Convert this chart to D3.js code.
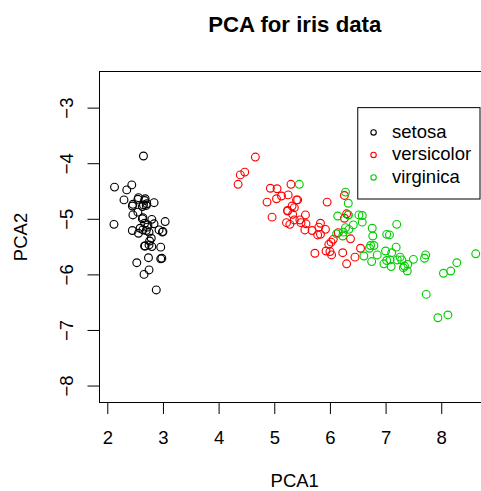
<!DOCTYPE html>
<html><head><meta charset="utf-8">
<script src="https://cdn.jsdelivr.net/npm/d3@7"></script>
<style>
  body { margin: 0; background: #fff; }
  svg text { font-family: "Liberation Sans", Arial, Helvetica, sans-serif; }
</style>
</head><body>
<svg id="chart" width="481" height="491"></svg>
<script>
// Principal component scores of the iris measurements, one pair of arrays per species
const species = ["setosa", "versicolor", "virginica"];
const speciesColors = ["#000000", "#FF0000", "#00CD00"];

const setosaPC1 = [2.64,2.67,2.45,2.55,2.56,2.98,2.46,2.67,2.44,2.65,2.80,2.63,2.56,2.13,2.75,2.88,2.74,2.70,2.96,2.67,3.00,2.76,2.12,3.04,2.80,
  2.84,2.84,2.75,2.72,2.63,2.71,2.99,2.53,2.66,2.70,2.55,2.79,2.45,2.35,2.73,2.59,2.65,2.30,2.93,2.96,2.68,2.68,2.46,2.75,2.64];
const setosaPC2 = [-5.20,-4.67,-4.77,-4.65,-5.26,-5.71,-4.93,-5.08,-4.39,-4.75,-5.50,-5.00,-4.62,-4.43,-5.92,-6.28,-5.70,-5.21,-5.72,-5.49,-5.23,-5.40,-5.10,-5.05,-5.01,
  -4.71,-5.09,-5.24,-5.15,-4.78,-4.73,-5.24,-5.79,-6.00,-4.76,-4.88,-5.35,-5.21,-4.48,-5.11,-5.17,-3.87,-4.66,-5.20,-5.51,-4.64,-5.49,-4.74,-5.47,-4.98];

const versicolorPC1 = [6.30,5.93,6.45,5.30,6.15,5.56,6.03,4.39,6.06,5.04,4.66,5.55,5.42,5.92,4.96,6.00,5.57,5.24,6.26,5.13,6.02,5.48,6.30,5.83,5.78,
  5.98,6.37,6.55,5.80,4.87,5.05,4.93,5.24,6.26,5.46,5.73,6.23,5.95,5.22,5.25,5.40,5.83,5.32,4.47,5.36,5.28,5.36,5.68,4.35,5.33];
const versicolorPC2 = [-5.81,-5.58,-5.69,-4.38,-5.25,-4.93,-5.65,-4.21,-5.37,-4.64,-3.89,-5.20,-4.66,-5.19,-4.97,-5.59,-5.09,-4.85,-4.58,-4.59,-5.42,-5.07,-4.91,-5.08,-5.29,
  -5.46,-5.36,-5.53,-5.15,-4.70,-4.46,-4.45,-4.86,-4.99,-5.02,-5.62,-5.61,-4.70,-5.07,-4.57,-4.66,-5.28,-4.77,-4.16,-4.80,-5.10,-5.02,-5.21,-4.38,-4.92];

const virginicaPC1 = [7.29,6.33,7.50,6.77,7.19,8.17,5.45,7.70,7.20,7.73,6.61,6.76,7.11,6.33,6.58,6.85,6.79,8.12,8.62,6.28,7.34,6.14,8.28,6.42,7.10,
  7.39,6.28,6.23,7.02,7.21,7.72,7.94,7.07,6.34,6.52,8.04,6.97,6.71,6.12,7.08,7.26,7.02,6.33,7.40,7.32,7.00,6.58,6.73,6.75,6.24];
const virginicaPC2 = [-5.74,-4.93,-5.73,-5.31,-5.51,-5.94,-4.38,-5.71,-5.10,-6.36,-5.67,-5.17,-5.61,-4.72,-5.06,-5.65,-5.48,-6.73,-5.63,-4.52,-5.85,-4.95,-5.79,-5.11,-5.86,
  -5.94,-5.16,-5.31,-5.28,-5.74,-5.65,-6.78,-5.29,-5.19,-4.93,-5.98,-5.81,-5.53,-5.27,-5.74,-5.69,-5.75,-4.93,-5.82,-5.88,-5.58,-4.94,-5.48,-5.77,-5.24];

const xTicks = [2, 3, 4, 5, 6, 7, 8];
const yTicks = [-3, -4, -5, -6, -7, -8];

const titleText = "PCA for iris data";
const xLabel = "PCA1";
const yLabel = "PCA2";

// legend anchored at a data position (top-left corner)
const legendAt = [6.5, -3];

// ---- layout ----
const plot = { left: 99.5, right: 490, top: 71.5, bottom: 402.5 };
const fontSize = 18.5;

const x = d3.scaleLinear().domain([1.86, 8.876]).range([plot.left, plot.right]);
const y = d3.scaleLinear().domain([-2.35, -8.305]).range([plot.top, plot.bottom]);

const svg = d3.select("#chart");

const groups = [
  { name: species[0], color: speciesColors[0], pc1: setosaPC1, pc2: setosaPC2 },
  { name: species[1], color: speciesColors[1], pc1: versicolorPC1, pc2: versicolorPC2 },
  { name: species[2], color: speciesColors[2], pc1: virginicaPC1, pc2: virginicaPC2 }
];

// points (open circles), drawn species by species
groups.forEach(g => {
  svg.append("g")
    .selectAll("circle")
    .data(d3.zip(g.pc1, g.pc2))
    .join("circle")
      .attr("cx", d => x(d[0]))
      .attr("cy", d => y(d[1]))
      .attr("r", 3.9)
      .attr("fill", "none")
      .attr("stroke", g.color)
      .attr("stroke-width", 1.15);
});

// plot frame
svg.append("rect")
  .attr("x", plot.left).attr("y", plot.top)
  .attr("width", plot.right - plot.left).attr("height", plot.bottom - plot.top)
  .attr("fill", "none").attr("stroke", "#000").attr("stroke-width", 1);

// x axis
const xAxis = svg.append("g")
  .attr("transform", `translate(0,${plot.bottom})`)
  .call(d3.axisBottom(x).tickValues(xTicks).tickSize(11.5).tickSizeOuter(0).tickFormat(d3.format("d")));
xAxis.select(".domain").remove();
xAxis.append("line")
  .attr("x1", x(xTicks[0])).attr("x2", x(xTicks[xTicks.length - 1]))
  .attr("stroke", "#000");
xAxis.selectAll(".tick line").attr("stroke", "#000");
xAxis.selectAll(".tick text")
  .attr("y", 41.5).attr("dy", null)
  .attr("fill", "#000")
  .style("font-size", fontSize + "px")
  .style("font-family", "'Liberation Sans', Arial, sans-serif");

// y axis, labels parallel to the axis
const yAxis = svg.append("g")
  .attr("transform", `translate(${plot.left},0)`)
  .call(d3.axisLeft(y).tickValues(yTicks).tickSize(12).tickSizeOuter(0)
    .tickFormat(d => d3.format("d")(d).replace("-", "\u2212")));
yAxis.select(".domain").remove();
yAxis.append("line")
  .attr("y1", y(yTicks[0])).attr("y2", y(yTicks[yTicks.length - 1]))
  .attr("stroke", "#000");
yAxis.selectAll(".tick line").attr("stroke", "#000");
yAxis.selectAll(".tick text")
  .attr("x", null).attr("dy", null)
  .attr("transform", "translate(-27,0) rotate(-90)")
  .attr("text-anchor", "middle")
  .attr("fill", "#000")
  .style("font-size", fontSize + "px")
  .style("font-family", "'Liberation Sans', Arial, sans-serif");

// title and axis titles
svg.append("text")
  .attr("x", (plot.left + plot.right) / 2).attr("y", 32)
  .attr("text-anchor", "middle")
  .attr("font-weight", "bold")
  .attr("font-size", 22.2)
  .text(titleText);

svg.append("text")
  .attr("x", (plot.left + plot.right) / 2).attr("y", 487)
  .attr("text-anchor", "middle")
  .attr("font-size", fontSize)
  .text(xLabel);

svg.append("text")
  .attr("transform", `translate(26.5,${(plot.top + plot.bottom) / 2}) rotate(-90)`)
  .attr("text-anchor", "middle")
  .attr("font-size", fontSize)
  .text(yLabel);

// legend
const lx = x(legendAt[0]), ly = y(legendAt[1]);
const legend = svg.append("g");
legend.append("rect")
  .attr("x", lx).attr("y", ly)
  .attr("width", 480 - lx).attr("height", 199 - ly)
  .attr("fill", "#fff").attr("stroke", "#000").attr("stroke-width", 1);
const rowY = i => ly + 24.8 + i * 22.5;
legend.selectAll("circle")
  .data(groups)
  .join("circle")
    .attr("cx", lx + 15.8)
    .attr("cy", (d, i) => rowY(i))
    .attr("r", 2.7)
    .attr("fill", "none")
    .attr("stroke", d => d.color)
    .attr("stroke-width", 1.1);
legend.selectAll("text")
  .data(groups)
  .join("text")
    .attr("x", lx + 34.2)
    .attr("y", (d, i) => rowY(i) + 5.4)
    .attr("font-size", fontSize)
    .attr("fill", "#000")
    .text(d => d.name);
</script>
</body></html>
